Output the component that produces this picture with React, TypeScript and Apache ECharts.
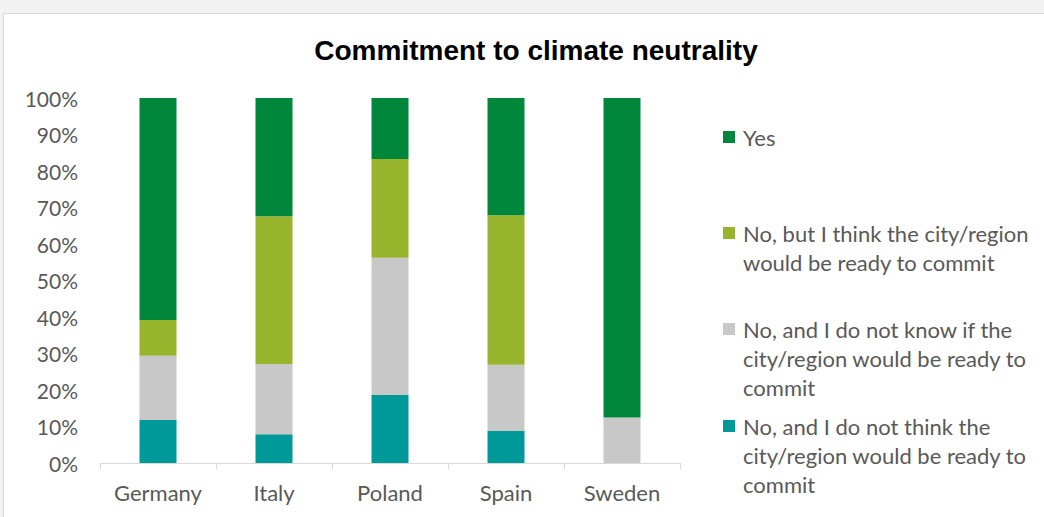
import React, { useEffect, useRef } from "react";
import * as echarts from "echarts";

const categories = ["Germany", "Italy", "Poland", "Spain", "Sweden"];
const seriesNames = [
  "No, and I do not think the\ncity/region would be ready to\ncommit",
  "No, and I do not know if the\ncity/region would be ready to\ncommit",
  "No, but I think the city/region\nwould be ready to commit",
  "Yes",
];
const notThink = [11.8, 7.9, 18.6, 8.8, 0];
const notKnow = [17.6, 19.2, 37.6, 18.1, 12.5];
const readyToCommit = [9.8, 40.5, 27.1, 41.0, 0];
const yes = [60.8, 32.4, 16.7, 32.1, 87.5];
const colors = ["#009999", "#c8c8c8", "#98b32c", "#00873b"];
const legendTops = [426, 329, 233, 137];
const legendLines = [3, 3, 2, 1];

export default function App() {
  const ref = useRef<HTMLDivElement>(null);
  useEffect(() => {
    document.body.style.margin = "0";
    const chart = echarts.init(ref.current!, null, { renderer: "svg" });
    const values = [notThink, notKnow, readyToCommit, yes];
    const LH = 29;
    chart.setOption({
      animation: false,
      backgroundColor: "#f2f2f2",
      title: {
        text: "Commitment to climate neutrality",
        left: 531,
        textAlign: "center",
        top: 31,
        textStyle: { fontFamily: "Liberation Sans, Arial", fontWeight: "bold", fontSize: 28, color: "#000" },
      },
      graphic: [
        {
          type: "rect",
          z: -10,
          shape: { x: 3.5, y: 13.5, width: 1050, height: 520 },
          style: { fill: "#ffffff", stroke: "#d9d9d9", lineWidth: 1 },
        },
      ],
      legend: seriesNames.map((n, i) => ({
        data: [n],
        orient: "vertical",
        left: 723,
        top: legendTops[i] - (LH * (2 * legendLines[i] - 1)) / 2,
        itemWidth: 12,
        itemHeight: 12,
        icon: "rect",
        selectedMode: false,
        padding: 0,
        formatter: (name: string) => "\n".repeat(legendLines[i] - 1) + name,
        textStyle: {
          fontFamily: "Lato",
          fontSize: 22,
          color: "#595959",
          lineHeight: LH,
          padding: [0, 0, 0, 3],
        },
      })),
      grid: { left: 100, right: 364, top: 98, bottom: 54 },
      xAxis: {
        type: "category",
        data: categories,
        axisLine: { lineStyle: { color: "#d9d9d9", width: 1 } },
        axisTick: { show: true, length: 6, lineStyle: { color: "#d9d9d9" } },
        axisLabel: { color: "#595959", fontSize: 22, fontFamily: "Lato", margin: 18 },
      },
      yAxis: {
        type: "value",
        min: 0,
        max: 100,
        interval: 10,
        axisLine: { show: false },
        axisTick: { show: false },
        splitLine: { show: false },
        axisLabel: { color: "#595959", fontSize: 21, fontFamily: "Lato", margin: 22, formatter: "{value}%" },
      },
      series: seriesNames.map((n, i) => ({
        name: n,
        type: "bar",
        stack: "total",
        data: values[i],
        barWidth: 37,
        itemStyle: { color: colors[i] },
      })),
    });
    return () => chart.dispose();
  }, []);
  return <div ref={ref} style={{ width: 1044, height: 517 }} />;
}
